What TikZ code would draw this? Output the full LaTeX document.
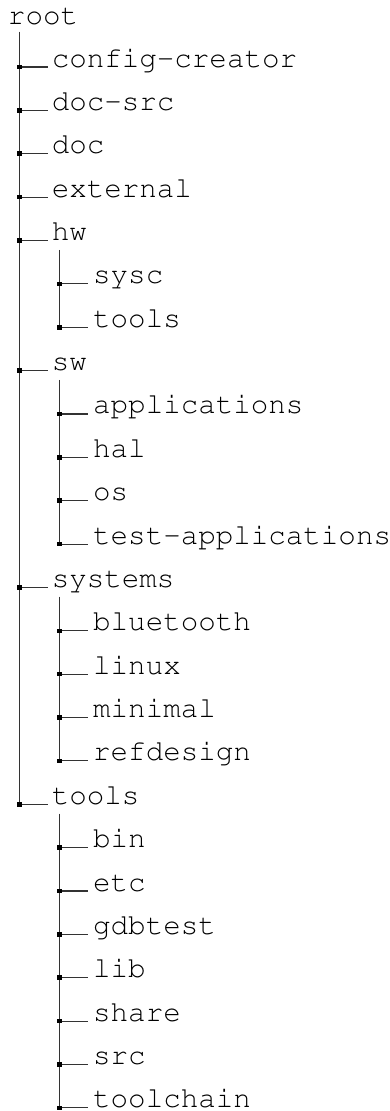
\documentclass[tikz,border=0pt]{standalone}
\begin{document}
\begin{tikzpicture}[x=1pt,y=-1pt]
\tikzset{
  lab/.style={anchor=base west, inner sep=0pt, outer sep=0pt,
    font=\fontencoding{T1}\fontfamily{pcr}\fontsize{29.2}{31}\selectfont},
  tree/.style={line width=1.1pt, black!80},
  knot/.style={rectangle, fill=black, draw=none, minimum size=4.6pt, inner sep=0pt}
}
\useasboundingbox (0,0) rectangle (390,1111);

% root
\node[lab] (n0) at (8,24.5) {root};
\coordinate (t0) at (19.3,31.7);

% first level entries
\foreach \k/\t in {1/config-creator,2/doc-src,3/doc,4/external,5/hw,8/sw,13/systems,18/tools}{
  \pgfmathsetmacro\yy{67+43.37*(\k-1)}
  \coordinate (j\k) at (19.3,\yy);
  \coordinate (e\k) at (48.3,\yy);
  \node[lab] (n\k) at (51.8,\yy) {\t};
  \draw[tree] (j\k) -- (e\k);
}

% second level entries
\foreach \k/\t in {6/sysc,7/tools,9/applications,10/hal,11/os,12/test-applications,
  14/bluetooth,15/linux,16/minimal,17/refdesign,
  19/bin,20/etc,21/gdbtest,22/lib,23/share,24/src,25/toolchain}{
  \pgfmathsetmacro\yy{67+43.37*(\k-1)}
  \coordinate (j\k) at (59.3,\yy);
  \coordinate (e\k) at (88.3,\yy);
  \node[lab] (n\k) at (93.2,\yy) {\t};
  \draw[tree] (j\k) -- (e\k);
}

% vertical stems
\draw[tree] (t0) -- (j18);
\foreach \p/\l in {5/7,8/12,13/17,18/25}{
  \pgfmathsetmacro\yy{67+43.37*(\p-1)+9.3}
  \coordinate (t\p) at (59.3,\yy);
  \draw[tree] (t\p) -- (j\l);
}

% junction marks
\foreach \k in {1,...,25}{
  \node[knot] (s\k) at (j\k) {};
}
\end{tikzpicture}
\end{document}
